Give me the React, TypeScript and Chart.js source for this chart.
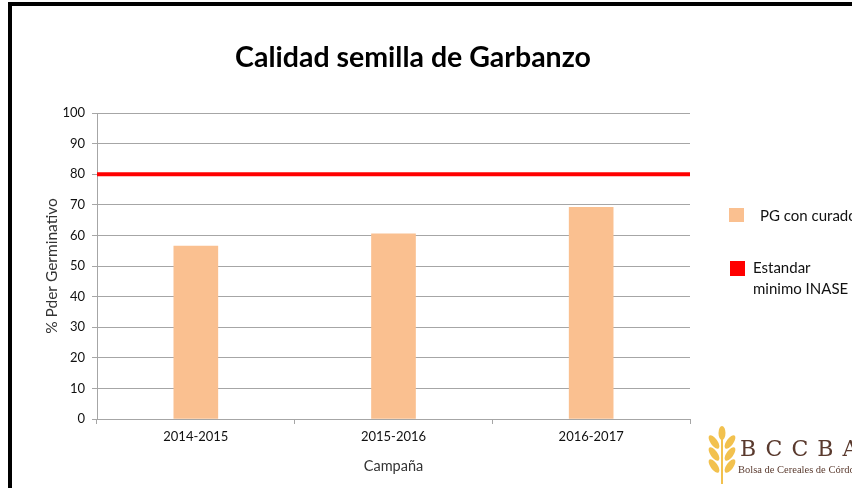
import React, { useEffect, useRef } from "react";
import { Chart, registerables } from "chart.js";

Chart.register(...registerables);

const categories = ["2014-2015", "2015-2016", "2016-2017"];
const pgValues = [56.5, 60.5, 69.2];
const standardValues = [80, 80];
const yTicks = [0, 10, 20, 30, 40, 50, 60, 70, 80, 90, 100];
const seriesNames = ["PG con curado", "Estandar minimo INASE"];

const FONT = "Lato, 'Open Sans', sans-serif";

export default function App() {
  const ref = useRef<HTMLCanvasElement | null>(null);

  useEffect(() => {
    if (!ref.current) return;
    const chart = new Chart(ref.current, {
      type: "bar",
      data: {
        labels: categories,
        datasets: [
          {
            type: "bar",
            label: seriesNames[0],
            data: pgValues,
            backgroundColor: "#FAC090",
            borderWidth: 0,
            barThickness: 44,
            grouped: false,
            xAxisID: "x",
            order: 2,
          },
          {
            type: "line",
            label: seriesNames[1],
            data: standardValues.map((v, i) => ({ x: i / (standardValues.length - 1), y: v })),
            borderColor: "#FF0000",
            borderWidth: 4,
            pointRadius: 0,
            xAxisID: "x2",
            order: 1,
          } as any,
        ],
      },
      options: {
        responsive: false,
        animation: false,
        layout: { padding: { left: 0, right: 162, top: 113, bottom: 0 } },
        plugins: {
          legend: { display: false },
          title: { display: false },
          tooltip: { enabled: false },
        },
        scales: {
          x: {
            type: "category",
            offset: true,
            grid: {
              display: true,
              drawOnChartArea: false,
              offset: true,
              tickLength: 5,
              color: "#a6a6a6",
            },
            border: { display: true, color: "#a6a6a6" },
            ticks: { font: { family: FONT, size: 13 }, color: "#111", padding: 5, maxRotation: 0 },
            title: {
              display: true,
              text: "Campaña",
              font: { family: FONT, size: 14.5 },
              color: "#333",
              padding: { top: 0, bottom: 13 },
            },
            afterFit: (s: any) => {
              s.height = 69;
            },
          },
          x2: {
            type: "linear",
            display: false,
            offset: false,
            min: 0,
            max: 1,
          },
          y: {
            min: 0,
            max: 100,
            afterBuildTicks: (s: any) => {
              s.ticks = yTicks.map((v) => ({ value: v }));
            },
            grid: { color: "#a6a6a6", tickLength: 5 },
            border: { display: true, color: "#a6a6a6" },
            ticks: { font: { family: FONT, size: 13 }, color: "#111", padding: 7 },
            title: {
              display: true,
              text: "% Pder Germinativo",
              font: { family: FONT, size: 15.5 },
              color: "#333",
              padding: { top: 43, bottom: 0 },
            },
            afterFit: (s: any) => {
              s.width = 97;
            },
          },
        },
      },
    });
    return () => chart.destroy();
  }, []);

  return (
    <div
      style={{
        position: "fixed",
        left: 0,
        top: 0,
        width: 852,
        height: 488,
        background: "#fff",
        overflow: "hidden",
        fontFamily: FONT,
      }}
    >
      <div
        style={{
          position: "absolute",
          left: 8,
          top: 2,
          width: 900,
          height: 600,
          borderLeft: "4px solid #000",
          borderTop: "4px solid #000",
        }}
      />
      <canvas ref={ref} width={852} height={488} style={{ position: "absolute", left: 0, top: 0 }} />
      <div
        style={{
          position: "absolute",
          left: 0,
          width: 826,
          top: 39,
          textAlign: "center",
          fontSize: 28.5,
          fontWeight: 700,
          color: "#000",
          whiteSpace: "nowrap",
        }}
      >
        Calidad semilla de Garbanzo
      </div>
      {/* legend */}
      <div style={{ position: "absolute", left: 729, top: 208, width: 15, height: 14, background: "#FAC090" }} />
      <div style={{ position: "absolute", left: 760, top: 205, fontSize: 15, color: "#111", whiteSpace: "nowrap", lineHeight: "21px" }}>
        {seriesNames[0]}
      </div>
      <div style={{ position: "absolute", left: 730, top: 261, width: 15, height: 15, background: "#FF0000" }} />
      <div style={{ position: "absolute", left: 753, top: 257, fontSize: 15, color: "#111", whiteSpace: "nowrap", lineHeight: "21px" }}>
        Estandar
        <br />
        minimo INASE
      </div>
      {/* logo */}
      <svg style={{ position: "absolute", left: 704, top: 426 }} width={36} height={58} viewBox="0 0 36 58">
        <g fill="#F2C14E">
          <ellipse cx="18" cy="7" rx="3.5" ry="7" />
          <ellipse cx="10" cy="16" rx="3.5" ry="8" transform="rotate(-35 10 16)" />
          <ellipse cx="26" cy="16" rx="3.5" ry="8" transform="rotate(35 26 16)" />
          <ellipse cx="10" cy="28" rx="3.5" ry="8" transform="rotate(-35 10 28)" />
          <ellipse cx="26" cy="28" rx="3.5" ry="8" transform="rotate(35 26 28)" />
          <ellipse cx="10" cy="40" rx="3.5" ry="8" transform="rotate(-35 10 40)" />
          <ellipse cx="26" cy="40" rx="3.5" ry="8" transform="rotate(35 26 40)" />
          <rect x="17" y="12" width="2" height="46" />
        </g>
      </svg>
      <div
        style={{
          position: "absolute",
          left: 740,
          top: 436,
          fontFamily: "'DejaVu Serif', 'Liberation Serif', serif",
          fontSize: 22,
          letterSpacing: 9,
          color: "#5A3A2E",
          whiteSpace: "nowrap",
          lineHeight: "26px",
        }}
      >
        BCCBA
      </div>
      <div
        style={{
          position: "absolute",
          left: 738,
          top: 464,
          fontFamily: "'Liberation Serif', serif",
          fontSize: 10.5,
          color: "#5A3A2E",
          whiteSpace: "nowrap",
        }}
      >
        Bolsa de Cereales de Córdoba
      </div>
    </div>
  );
}
